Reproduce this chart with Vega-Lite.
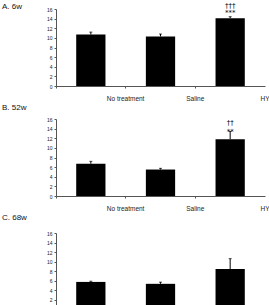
{
  "$schema": "https://vega.github.io/schema/vega-lite/v6.json",
  "padding": {"left": 2, "top": 1, "right": 2, "bottom": 2},
  "background": "white",
  "spacing": 2,
  "config": {
    "view": {"stroke": null},
    "font": "Liberation Sans",
    "axis": {
      "domainColor": "#555555",
      "tickColor": "#555555",
      "labelColor": "#222222",
      "titleColor": "#222222",
      "labelFont": "Liberation Sans",
      "titleFont": "Liberation Sans",
      "titleFontWeight": "normal",
      "grid": false
    },
    "axisY": {
      "title": "GSH Concentration (uM/L)",
      "titleFontSize": 6.3,
      "titlePadding": 3,
      "labelFontSize": 5,
      "tickSize": 2,
      "labelPadding": 2,
      "labelOverlap": false
    },
    "title": {
      "font": "Liberation Sans",
      "fontSize": 8,
      "fontWeight": "normal",
      "color": "#111111",
      "anchor": "start",
      "frame": "group",
      "baseline": "middle",
      "dx": -54
    }
  },
  "datasets": {
    "gsh": [
      {"panel": "A", "group": "No treatment", "mean": 10.7, "upper": 11.2, "star": "", "dagger": ""},
      {"panel": "A", "group": "Saline", "mean": 10.3, "upper": 10.8, "star": "", "dagger": ""},
      {"panel": "A", "group": "HY", "mean": 14.1, "upper": 14.4, "star": "***", "dagger": "†††"},
      {"panel": "B", "group": "No treatment", "mean": 6.7, "upper": 7.2, "star": "", "dagger": ""},
      {"panel": "B", "group": "Saline", "mean": 5.5, "upper": 5.75, "star": "", "dagger": ""},
      {"panel": "B", "group": "HY", "mean": 11.8, "upper": 13.4, "star": "**", "dagger": "††"},
      {"panel": "C", "group": "No treatment", "mean": 5.7, "upper": 5.85, "star": "", "dagger": ""},
      {"panel": "C", "group": "Saline", "mean": 5.3, "upper": 5.65, "star": "", "dagger": ""},
      {"panel": "C", "group": "HY", "mean": 8.4, "upper": 10.6, "star": "", "dagger": ""}
    ]
  },
  "vconcat": [
    {
      "title": {"text": "A. 6w", "offset": -9},
      "width": 209,
      "height": 77,
      "data": {"name": "gsh"},
      "transform": [{"filter": "datum.panel === 'A'"}],
      "encoding": {
        "x": {"field": "group", "type": "nominal", "sort": ["No treatment", "Saline", "HY"],
          "scale": {"paddingInner": 0, "paddingOuter": 0},
          "axis": {"title": null, "labelAngle": 0, "labelFontSize": 6.5, "labelPadding": 7, "tickSize": 2, "bandPosition": 0, "labelOffset": 34.8}},
        "y": {"field": "mean", "type": "quantitative",
          "scale": {"domain": [0, 16], "nice": false},
          "axis": {"values": [0, 2, 4, 6, 8, 10, 12, 14, 16]}}
      },
      "layer": [
        {"mark": {"type": "bar", "color": "black", "width": {"band": 0.42}}},
        {"mark": {"type": "rule", "color": "black", "strokeWidth": 1},
          "encoding": {"y2": {"field": "upper"}}},
        {"mark": {"type": "tick", "color": "black", "size": 3, "thickness": 1},
          "encoding": {"y": {"field": "upper", "type": "quantitative"}}},
        {"mark": {"type": "text", "fontSize": 7, "baseline": "middle", "dy": -4, "color": "black", "font": "DejaVu Sans"},
          "encoding": {"y": {"field": "upper", "type": "quantitative"}, "text": {"field": "star"}}},
        {"mark": {"type": "text", "fontSize": 7, "baseline": "middle", "dy": -11, "color": "black", "font": "DejaVu Sans"},
          "encoding": {"y": {"field": "upper", "type": "quantitative"}, "text": {"field": "dagger"}}}
      ]
    },
    {
      "title": {"text": "B. 52w", "offset": 5},
      "width": 209,
      "height": 77,
      "data": {"name": "gsh"},
      "transform": [{"filter": "datum.panel === 'B'"}],
      "encoding": {
        "x": {"field": "group", "type": "nominal", "sort": ["No treatment", "Saline", "HY"],
          "scale": {"paddingInner": 0, "paddingOuter": 0},
          "axis": {"title": null, "labelAngle": 0, "labelFontSize": 6.5, "labelPadding": 7, "tickSize": 2, "bandPosition": 0, "labelOffset": 34.8}},
        "y": {"field": "mean", "type": "quantitative",
          "scale": {"domain": [0, 16], "nice": false},
          "axis": {"values": [0, 2, 4, 6, 8, 10, 12, 14, 16]}}
      },
      "layer": [
        {"mark": {"type": "bar", "color": "black", "width": {"band": 0.42}}},
        {"mark": {"type": "rule", "color": "black", "strokeWidth": 1},
          "encoding": {"y2": {"field": "upper"}}},
        {"mark": {"type": "tick", "color": "black", "size": 3, "thickness": 1},
          "encoding": {"y": {"field": "upper", "type": "quantitative"}}},
        {"mark": {"type": "text", "fontSize": 7, "baseline": "middle", "dy": 0, "color": "black", "font": "DejaVu Sans"},
          "encoding": {"y": {"field": "upper", "type": "quantitative"}, "text": {"field": "star"}}},
        {"mark": {"type": "text", "fontSize": 7, "baseline": "middle", "dy": -9, "color": "black", "font": "DejaVu Sans"},
          "encoding": {"y": {"field": "upper", "type": "quantitative"}, "text": {"field": "dagger"}}}
      ]
    },
    {
      "title": {"text": "C. 68w", "offset": 9},
      "width": 209,
      "height": 76,
      "data": {"name": "gsh"},
      "transform": [{"filter": "datum.panel === 'C'"}],
      "encoding": {
        "x": {"field": "group", "type": "nominal", "sort": ["No treatment", "Saline", "HY"],
          "scale": {"paddingInner": 0, "paddingOuter": 0},
          "axis": {"title": null, "labelAngle": 0, "labelFontSize": 6.5, "labelPadding": 7, "tickSize": 2, "bandPosition": 0, "labelOffset": 34.8}},
        "y": {"field": "mean", "type": "quantitative",
          "scale": {"domain": [0, 16], "nice": false},
          "axis": {"values": [0, 2, 4, 6, 8, 10, 12, 14, 16]}}
      },
      "layer": [
        {"mark": {"type": "bar", "color": "black", "width": {"band": 0.42}}},
        {"mark": {"type": "rule", "color": "black", "strokeWidth": 1},
          "encoding": {"y2": {"field": "upper"}}},
        {"mark": {"type": "tick", "color": "black", "size": 3, "thickness": 1},
          "encoding": {"y": {"field": "upper", "type": "quantitative"}}}
      ]
    }
  ]
}
